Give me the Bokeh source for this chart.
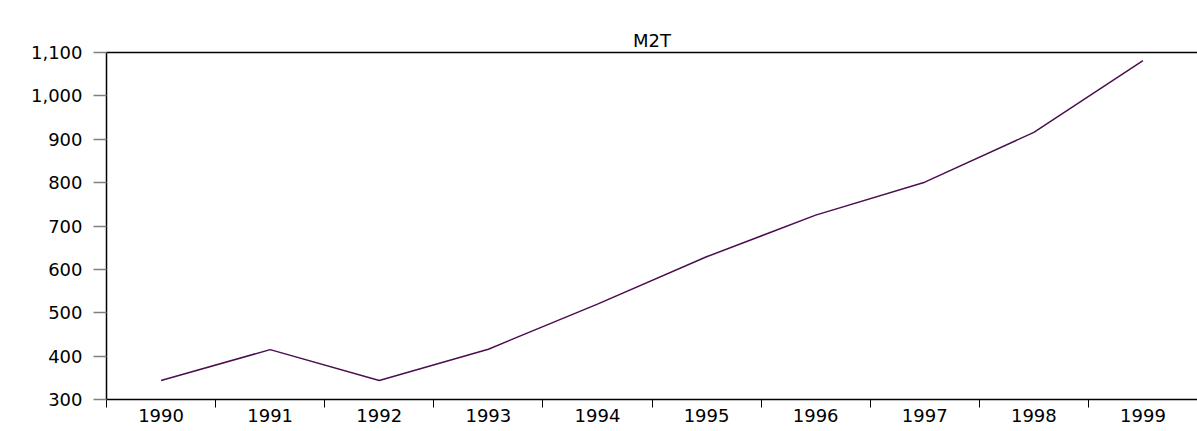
from bokeh.plotting import figure
from bokeh.models import FixedTicker, NumeralTickFormatter, LinearAxis
from bokeh.embed import file_html
from bokeh.resources import INLINE

# ---- data ----
years = [1990, 1991, 1992, 1993, 1994, 1995, 1996, 1997, 1998, 1999]
m2t = [344, 415, 344, 416, 520, 629, 725, 801, 916, 1081]
y_ticks = [300, 400, 500, 600, 700, 800, 900, 1000, 1100]
title_text = "M2T"

FONT = "DejaVu Sans"
FS = "18px"

p = figure(
    width=1197, height=431,
    x_range=(years[0] - 0.5, years[-1] + 0.5),
    y_range=(y_ticks[0], y_ticks[-1]),
    output_backend="svg", toolbar_location=None,
    min_border_left=106, min_border_right=0, min_border_top=52, min_border_bottom=32,
)

p.line(years, m2t, line_color="#4B0E4F", line_width=1.5)

# keep explicit references to the bottom and left axes
xa = p.below[0]
ya = p.left[0]

# top border drawn as a bare axis (no ticks, no labels) that also spaces the title
top = LinearAxis(ticker=FixedTicker(ticks=[], minor_ticks=[]))
top.axis_line_color = "black"
top.axis_line_width = 1.5
top.major_tick_out = 25
top.major_tick_in = 0
top.major_tick_line_color = None
top.minor_tick_out = 0
top.minor_tick_in = 0
top.minor_tick_line_color = None
top.major_label_standoff = 0
top.major_label_text_font_size = "0px"
p.add_layout(top, "above")

# title
p.title.text = title_text
p.title.align = "center"
p.title.vertical_align = "bottom"
p.title.standoff = 4
p.title.text_font = FONT
p.title.text_font_size = "18px"
p.title.text_font_style = "normal"
p.title.text_color = "black"

# frame
p.outline_line_color = None
p.xgrid.visible = False
p.ygrid.visible = False
p.background_fill_color = "white"
p.border_fill_color = "white"

# x axis: labels at year centers, separator ticks at boundaries
bounds = [y - 0.5 for y in years] + [years[-1] + 0.5]
xa.ticker = FixedTicker(ticks=years, minor_ticks=bounds)
xa.major_tick_out = 0
xa.major_tick_in = 0
xa.minor_tick_out = 8
xa.minor_tick_in = 0
xa.minor_tick_line_color = "black"
xa.axis_line_color = "black"
xa.axis_line_width = 1.5
xa.major_label_text_font = FONT
xa.major_label_text_font_size = FS
xa.major_label_text_color = "black"
xa.major_label_standoff = 1

# y axis
ya.ticker = FixedTicker(ticks=y_ticks, minor_ticks=[])
ya.formatter = NumeralTickFormatter(format="0,0")
ya.major_tick_out = 13
ya.major_tick_in = 0
ya.major_tick_line_color = "#808080"
ya.major_tick_line_width = 1.5
ya.minor_tick_line_color = None
ya.axis_line_color = "black"
ya.axis_line_width = 1.5
ya.major_label_text_font = FONT
ya.major_label_text_font_size = FS
ya.major_label_text_color = "black"
ya.major_label_standoff = 11

open("out.html", "w").write(file_html(p, INLINE))
